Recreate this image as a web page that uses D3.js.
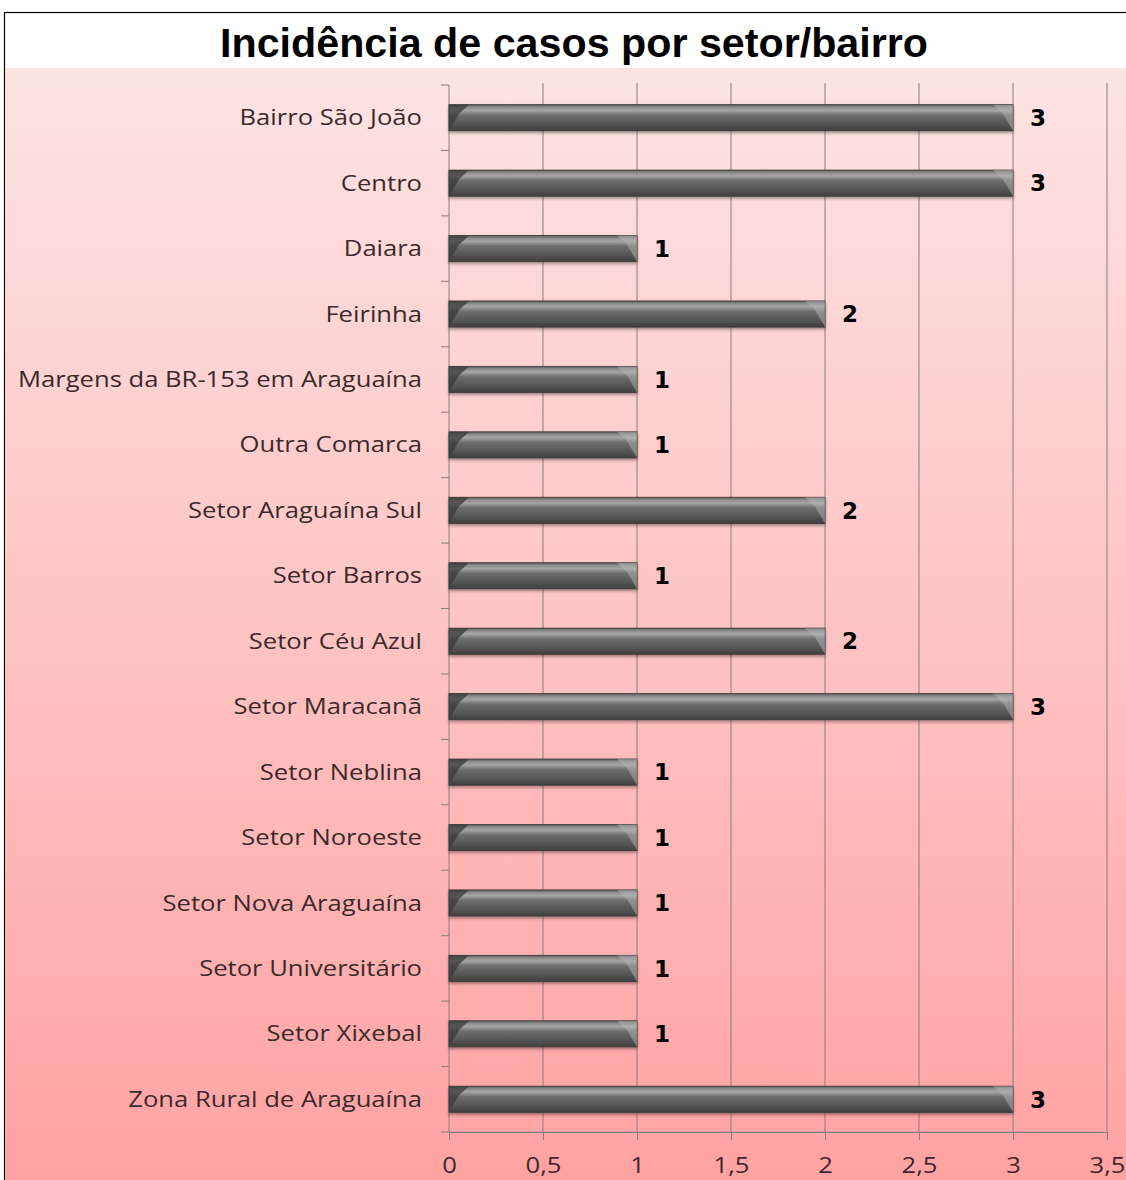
<!DOCTYPE html>
<html lang="pt">
<head>
<meta charset="UTF-8">
<title>Incidência de casos por setor/bairro</title>
<script src="https://d3js.org/d3.v7.min.js"></script>
<style>
  html, body { margin: 0; padding: 0; background: #fff; overflow: hidden; }
  svg { display: block; }
</style>
</head>
<body>
<script>
// data
const categories = [
  "Bairro São João", "Centro", "Daiara", "Feirinha",
  "Margens da BR-153 em Araguaína", "Outra Comarca", "Setor Araguaína Sul",
  "Setor Barros", "Setor Céu Azul", "Setor Maracanã", "Setor Neblina",
  "Setor Noroeste", "Setor Nova Araguaína", "Setor Universitário",
  "Setor Xixebal", "Zona Rural de Araguaína"
];
const values = [3, 3, 1, 2, 1, 1, 2, 1, 2, 3, 1, 1, 1, 1, 1, 3];
const xTicks = [0, 0.5, 1, 1.5, 2, 2.5, 3, 3.5];
const xTickLabels = ["0", "0,5", "1", "1,5", "2", "2,5", "3", "3,5"];
const title = "Incidência de casos por setor/bairro";

const width = 1126, height = 1180;
const plot = { left: 449, right: 1107, top: 85, bottom: 1132 };
const stretch = 1.22; // labels in the picture are drawn wide

const svg = d3.select("body").append("svg")
  .attr("width", width)
  .attr("height", height);

const defs = svg.append("defs");

// pink background gradient
const bg = defs.append("linearGradient")
  .attr("id", "bg").attr("x1", 0).attr("y1", 0).attr("x2", 0).attr("y2", 1);
bg.append("stop").attr("offset", "0%").attr("stop-color", "#fde3e3");
bg.append("stop").attr("offset", "50%").attr("stop-color", "#fec4c4");
bg.append("stop").attr("offset", "100%").attr("stop-color", "#ffa2a2");

// bar gradient (rounded look)
const bar = defs.append("linearGradient")
  .attr("id", "bar").attr("x1", 0).attr("y1", 0).attr("x2", 0).attr("y2", 1);
[["0%", "#5a5a5a"], ["10%", "#8c8c8c"], ["22%", "#a6a6a6"], ["40%", "#6e6e6e"],
 ["75%", "#555555"], ["100%", "#3f3f3f"]]
  .forEach(([o, c]) => bar.append("stop").attr("offset", o).attr("stop-color", c));

defs.append("filter").attr("id", "shadow")
  .attr("x", "-5%").attr("y", "-40%").attr("width", "110%").attr("height", "180%")
  .append("feDropShadow")
  .attr("dx", 0).attr("dy", 2).attr("stdDeviation", 1.5)
  .attr("flood-color", "#000").attr("flood-opacity", 0.35);

// white card with black border
svg.append("rect")
  .attr("x", 4.5).attr("y", 12.5)
  .attr("width", width + 10).attr("height", height + 10)
  .attr("fill", "#fff").attr("stroke", "#000").attr("stroke-width", 1.2);

svg.append("rect")
  .attr("x", 5).attr("y", 68)
  .attr("width", width).attr("height", height - 68)
  .attr("fill", "url(#bg)");

svg.append("text")
  .attr("x", 220).attr("y", 57)
  .attr("textLength", 708)
  .attr("lengthAdjust", "spacingAndGlyphs")
  .attr("font-family", "'Liberation Sans', Arial, sans-serif")
  .attr("font-weight", "bold")
  .attr("font-size", 40)
  .attr("fill", "#000")
  .text(title);

const x = d3.scaleLinear().domain([0, 3.5]).range([plot.left, plot.right]);
const y = d3.scaleBand().domain(categories)
  .range([plot.top, plot.bottom])
  .paddingInner(0.6).paddingOuter(0.3);

// vertical gridlines
svg.append("g")
  .selectAll("line")
  .data(xTicks.slice(1))
  .join("line")
  .attr("x1", d => x(d)).attr("x2", d => x(d))
  .attr("y1", plot.top - 2).attr("y2", plot.bottom)
  .attr("stroke", "#8a7c7c").attr("stroke-width", 1);

// x axis
const xAxis = svg.append("g")
  .attr("transform", `translate(0,${plot.bottom})`)
  .call(d3.axisBottom(x).tickValues(xTicks).tickFormat(() => "").tickSize(8));
xAxis.select(".domain").attr("stroke", "#8a7c7c");
xAxis.selectAll(".tick line").attr("stroke", "#8a7c7c");
xAxis.selectAll(".tick").append("text")
  .attr("transform", `translate(0,41) scale(${stretch},1)`)
  .attr("text-anchor", "middle")
  .attr("font-family", "'Open Sans', sans-serif")
  .attr("font-size", 21)
  .attr("fill", "#3a2a2a")
  .text((d, i) => xTickLabels[i]);

// y axis: line plus ticks on band boundaries
const step = y.step();
const off = y.paddingInner() * step / 2;
const bounds = categories.map(c => y(c) - off)
  .concat([y(categories[categories.length - 1]) - off + step]);
svg.append("line")
  .attr("x1", plot.left).attr("x2", plot.left)
  .attr("y1", plot.top).attr("y2", plot.bottom)
  .attr("stroke", "#8a7c7c");
svg.append("g").selectAll("line")
  .data(bounds)
  .join("line")
  .attr("x1", plot.left - 8).attr("x2", plot.left)
  .attr("y1", d => d).attr("y2", d => d)
  .attr("stroke", "#8a7c7c");

// category labels
svg.append("g").selectAll("text")
  .data(categories)
  .join("text")
  .attr("transform", d => `translate(${plot.left - 27},${y(d) + y.bandwidth() / 2}) scale(${stretch},1)`)
  .attr("dy", "0.36em")
  .attr("text-anchor", "end")
  .attr("font-family", "'Open Sans', sans-serif")
  .attr("font-size", 21)
  .attr("fill", "#3a2a2a")
  .text(d => d);

// bars
const bars = svg.append("g").selectAll("g")
  .data(categories.map((c, i) => ({ c, v: values[i] })))
  .join("g");

bars.append("rect")
  .attr("x", x(0))
  .attr("y", d => y(d.c))
  .attr("width", d => x(d.v) - x(0))
  .attr("height", y.bandwidth())
  .attr("fill", "url(#bar)")
  .attr("stroke", "#3a3a3a")
  .attr("stroke-width", 0.8)
  .attr("filter", "url(#shadow)");

// bevel facets at both ends
const bev = 10;
bars.append("path")
  .attr("d", d => {
    const x0 = x(0), y0 = y(d.c), h = y.bandwidth();
    return `M${x0},${y0}L${x0 + bev * 2},${y0}L${x0 + bev},${y0 + h * 0.35}L${x0},${y0 + h}Z`;
  })
  .attr("fill", "#3a3a3a").attr("opacity", 0.75);
bars.append("path")
  .attr("d", d => {
    const x1 = x(d.v), y0 = y(d.c), h = y.bandwidth();
    return `M${x1},${y0}L${x1 - bev * 2},${y0}L${x1 - bev},${y0 + h * 0.35}L${x1},${y0 + h}Z`;
  })
  .attr("fill", "#b4b4b4").attr("opacity", 0.5);

// value labels
bars.append("text")
  .attr("x", d => x(d.v) + 17)
  .attr("y", d => y(d.c) + y.bandwidth() / 2)
  .attr("dy", "0.36em")
  .attr("font-family", "'DejaVu Sans', sans-serif")
  .attr("font-weight", "bold")
  .attr("font-size", 23)
  .attr("fill", "#000")
  .text(d => d.v);
</script>
</body>
</html>
